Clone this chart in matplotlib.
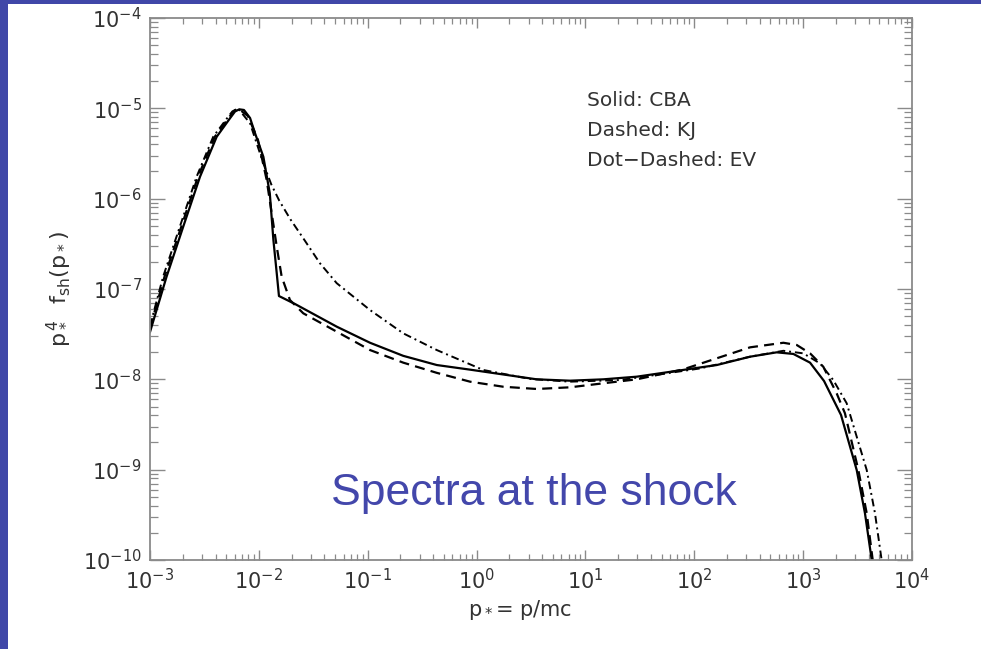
import matplotlib
matplotlib.use("Agg")
import matplotlib.pyplot as plt
from matplotlib.patches import Rectangle
from matplotlib.ticker import FixedLocator, NullFormatter

# ---- data ----
cba_p = [1.0e-3, 1.42e-3, 2.02e-3, 2.88e-3, 4.10e-3, 5.43e-3, 6.04e-3, 6.61e-3, 7.30e-3,
         8.30e-3, 9.23e-3, 1.10e-2, 1.26e-2, 1.36e-2, 1.46e-2, 1.53e-2, 2.15e-2, 5.19e-2,
         0.105, 0.212, 0.431, 0.871, 3.57, 7.21, 14.6, 29.6, 59.8, 161, 325, 571, 813, 1157,
         1556, 2228, 3105, 3698, 4266, 4477]
cba_f = [3.34e-8, 1.37e-7, 4.90e-7, 1.75e-6, 4.85e-6, 7.76e-6, 9.23e-6, 9.75e-6, 9.59e-6,
         7.82e-6, 5.29e-6, 2.91e-6, 1.15e-6, 3.49e-7, 1.49e-7, 8.36e-8, 6.82e-8, 3.83e-8,
         2.54e-8, 1.82e-8, 1.44e-8, 1.28e-8, 1.00e-8, 9.66e-9, 1.00e-8, 1.07e-8, 1.21e-8,
         1.44e-8, 1.78e-8, 1.99e-8, 1.91e-8, 1.53e-8, 9.58e-9, 4.03e-9, 9.91e-10, 3.29e-10,
         1.0e-10, 6.8e-11]

kj_p = [1.0e-3, 1.36e-3, 1.94e-3, 2.76e-3, 3.94e-3, 5.25e-3, 5.85e-3, 6.43e-3, 7.94e-3,
        9.82e-3, 1.18e-2, 1.46e-2, 1.62e-2, 1.93e-2, 2.56e-2, 5.19e-2, 0.105, 0.212, 0.431,
        0.871, 1.76, 3.57, 7.21, 14.6, 29.6, 79.3, 161, 325, 658, 873, 1157, 1531, 2032,
        2421, 3214, 3837, 4355, 4571]
kj_f = [3.70e-8, 1.37e-7, 4.90e-7, 1.75e-6, 4.85e-6, 7.76e-6, 9.23e-6, 1.0e-5, 8.22e-6,
        4.46e-6, 1.61e-6, 2.94e-7, 1.37e-7, 7.55e-8, 5.38e-8, 3.37e-8, 2.11e-8, 1.53e-8,
        1.18e-8, 9.42e-9, 8.28e-9, 7.82e-9, 8.16e-9, 9.04e-9, 1.0e-8, 1.29e-8, 1.71e-8,
        2.26e-8, 2.54e-8, 2.40e-8, 1.94e-8, 1.38e-8, 7.00e-9, 4.21e-9, 9.91e-10, 3.29e-10,
        1.0e-10, 6.8e-11]

ev_p = [1.0e-3, 1.32e-3, 1.88e-3, 2.68e-3, 3.81e-3, 5.10e-3, 5.70e-3, 6.43e-3, 8.30e-3,
        1.10e-2, 1.30e-2, 1.54e-2, 1.95e-2, 2.62e-2, 3.65e-2, 5.19e-2, 0.105, 0.212, 0.431,
        1.15, 3.10, 7.21, 20.8, 59.8, 113, 325, 658, 1003, 1429, 1892, 2512, 3837, 4571,
        5260, 5530]
ev_f = [3.89e-8, 1.37e-7, 4.90e-7, 1.75e-6, 4.85e-6, 7.76e-6, 9.23e-6, 1.0e-5, 6.83e-6,
        2.45e-6, 1.44e-6, 9.5e-7, 5.9e-7, 3.49e-7, 1.92e-7, 1.16e-7, 5.85e-8, 3.23e-8,
        2.11e-8, 1.27e-8, 1.01e-8, 9.42e-9, 9.82e-9, 1.18e-8, 1.32e-8, 1.78e-8, 2.07e-8,
        1.94e-8, 1.50e-8, 9.82e-9, 5.43e-9, 9.91e-10, 3.29e-10, 1.0e-10, 6.8e-11]

x_decades = [-3, -2, -1, 0, 1, 2, 3, 4]
y_decades = [-10, -9, -8, -7, -6, -5, -4]

legend_lines = ["Solid: CBA", "Dashed: KJ", "Dot\u2212Dashed: EV"]
slide_title = "Spectra at the shock"

# ---- figure ----
W, H = 981, 649
fig = plt.figure(figsize=(W / 100, H / 100), dpi=100)
fig.patch.set_facecolor("white")

blue = "#4047A8"
fig.patches.append(Rectangle((0, 1 - 4 / H), 1, 4 / H, transform=fig.transFigure,
                             facecolor=blue, edgecolor="none", zorder=0))
fig.patches.append(Rectangle((0, 0), 8 / W, 1, transform=fig.transFigure,
                             facecolor=blue, edgecolor="none", zorder=0))

ax = fig.add_axes([150 / W, 1 - 560 / H, 762 / W, 542 / H])
ax.set_xscale("log")
ax.set_yscale("log")
ax.set_xlim(10.0 ** x_decades[0], 10.0 ** x_decades[-1])
ax.set_ylim(10.0 ** y_decades[0], 10.0 ** y_decades[-1])

ax.plot(cba_p, cba_f, color="black", lw=1.6, ls="-")
ax.plot(kj_p, kj_f, color="black", lw=1.6, ls=(0, (4.5, 2.8)))
ax.plot(ev_p, ev_f, color="black", lw=1.4, ls=(0, (4, 2, 1, 2)))

gray = "#8a8a8a"
txt = "#333333"
for s in ax.spines.values():
    s.set_color(gray)
    s.set_linewidth(1.3)

xmaj = [10.0 ** d for d in x_decades]
ymaj = [10.0 ** d for d in y_decades]
xmin = [m * 10.0 ** d for d in x_decades[:-1] for m in range(2, 10)]
ymin = [m * 10.0 ** d for d in y_decades[:-1] for m in range(2, 10)]
ax.xaxis.set_major_locator(FixedLocator(xmaj))
ax.xaxis.set_minor_locator(FixedLocator(xmin))
ax.yaxis.set_major_locator(FixedLocator(ymaj))
ax.yaxis.set_minor_locator(FixedLocator(ymin))
ax.set_xticklabels([r"$\mathregular{10^{%d}}$" % d for d in x_decades])
ax.set_yticklabels([r"$\mathregular{10^{%d}}$" % d for d in y_decades])
ax.xaxis.set_minor_formatter(NullFormatter())
ax.yaxis.set_minor_formatter(NullFormatter())

ax.tick_params(axis="x", which="major", direction="in", length=7.5, width=1.0,
               color=gray, top=True, bottom=True, labelsize=15, labelcolor=txt, pad=6)
ax.tick_params(axis="x", which="minor", direction="in", length=4, width=0.9,
               color=gray, top=True, bottom=True)
ax.tick_params(axis="y", which="major", direction="in", length=11, width=1.0,
               color=gray, left=True, right=True, labelsize=15, labelcolor=txt, pad=6)
ax.tick_params(axis="y", which="minor", direction="in", length=5.5, width=0.9,
               color=gray, left=True, right=True)

ax.set_xlabel(r"$\mathregular{p_*}$= p/mc", fontsize=15, color=txt, labelpad=6)
ax.xaxis.set_label_coords(0.486, -0.07)
ax.set_ylabel(r"$\mathregular{p_*^{\,4}\ \ f_{sh}(p_*)}$", fontsize=16, color=txt, labelpad=8)

for i, line in enumerate(legend_lines):
    ax.text(0.5735, 0.847 - i * 0.0554, line, transform=ax.transAxes,
            fontsize=14.5, color=txt, va="center", ha="left")

fig.text(534 / W, 1 - 505 / H, slide_title, fontsize=32, color="#4347AB",
         family="Liberation Sans", ha="center", va="baseline")

fig.savefig("out.png", dpi=100)
